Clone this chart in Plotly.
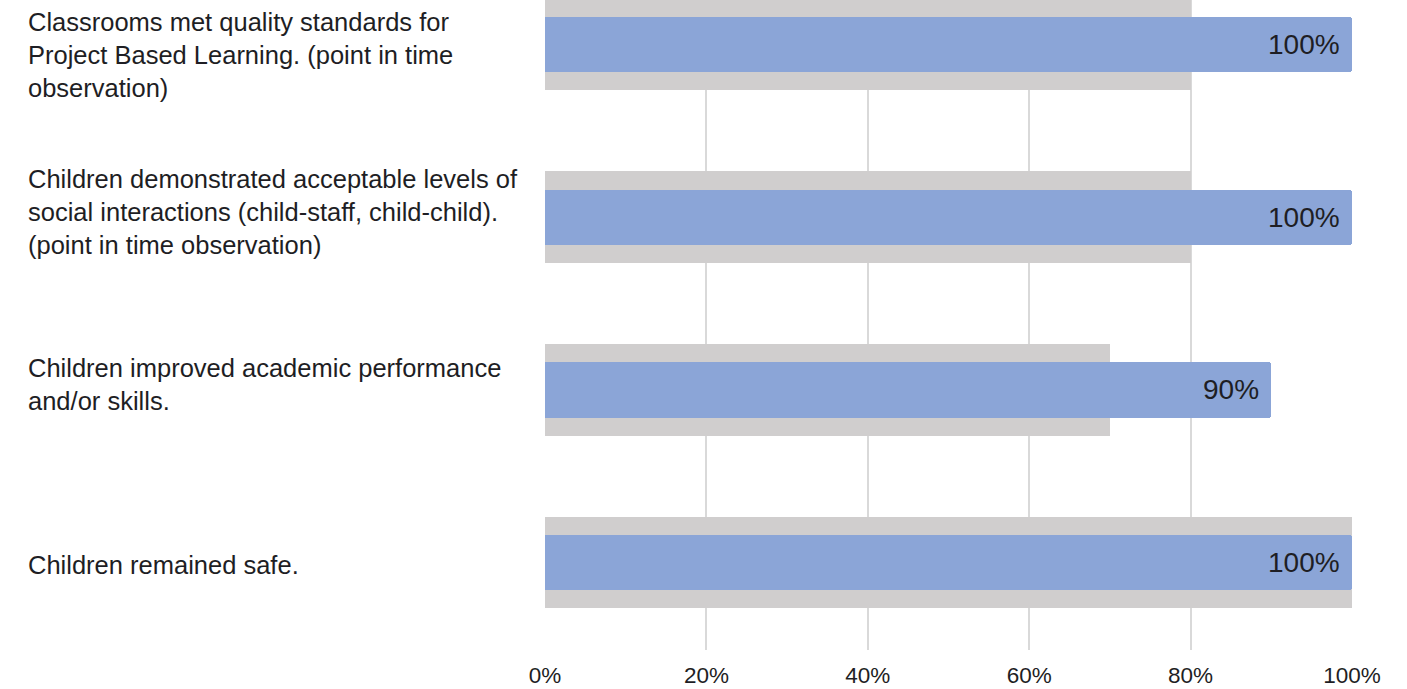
import plotly.graph_objects as go

# Outcome measures, listed bottom to top
categories = [
    "Children remained safe.",
    "Children improved academic performance<br>and/or skills.",
    "Children demonstrated acceptable levels of<br>social interactions (child-staff, child-child).<br>(point in time observation)",
    "Classrooms met quality standards for<br>Project Based Learning. (point in time<br>observation)",
]
target_pct = [100, 70, 80, 80]
actual_pct = [100, 90, 100, 100]
tick_vals = [0, 20, 40, 60, 80, 100]
tick_text = ["0%", "20%", "40%", "60%", "80%", "100%"]

ypos = list(range(len(categories)))

BLUE = "#8BA5D7"
GRAY = "#D0CECE"
TEXT = "#1E1E24"
FONT = "Liberation Sans, Arial, sans-serif"

fig = go.Figure()
fig.add_trace(go.Bar(
    x=target_pct, y=ypos, orientation="h", width=0.53,
    marker=dict(color=GRAY, line=dict(width=0)),
    hoverinfo="skip", showlegend=False,
))
fig.add_trace(go.Bar(
    x=actual_pct, y=ypos, orientation="h", width=0.32,
    marker=dict(color=BLUE, line=dict(width=0), cornerradius=3),
    hoverinfo="skip", showlegend=False,
))

# value labels at the inner end of each blue bar
for y, v in zip(ypos, actual_pct):
    fig.add_annotation(
        x=v, y=y, xref="x", yref="y", text=f"{v}%",
        xanchor="right", yanchor="middle", xshift=-10, showarrow=False,
        font=dict(family=FONT, size=28, color=TEXT),
    )

# left-aligned category labels
label_offsets = [-0.015, 0.03, 0.03, -0.06]
for y, c, off in zip(ypos, categories, label_offsets):
    fig.add_annotation(
        x=(26 - 545) / 807, y=y + off, xref="paper", yref="y", text=c,
        xanchor="left", yanchor="middle", align="left", showarrow=False,
        font=dict(family=FONT, size=25.5, color=TEXT),
    )

fig.update_layout(
    width=1407, height=689,
    margin=dict(l=545, r=55, t=0, b=39),
    barmode="overlay", bargap=0,
    plot_bgcolor="white", paper_bgcolor="white",
    xaxis=dict(
        range=[0, 100], tickvals=tick_vals, ticktext=tick_text,
        showgrid=True, gridcolor="#D9D9D9", gridwidth=1.5,
        zeroline=False, showline=False, ticks="",
        ticklabelstandoff=9, automargin=False,
        tickfont=dict(family=FONT, size=22.5, color=TEXT),
        fixedrange=True,
    ),
    yaxis=dict(
        range=[-0.506, 3.258], showticklabels=False, showgrid=False,
        zeroline=False, showline=False, fixedrange=True, automargin=False,
    ),
)

fig.write_html("out.html")
